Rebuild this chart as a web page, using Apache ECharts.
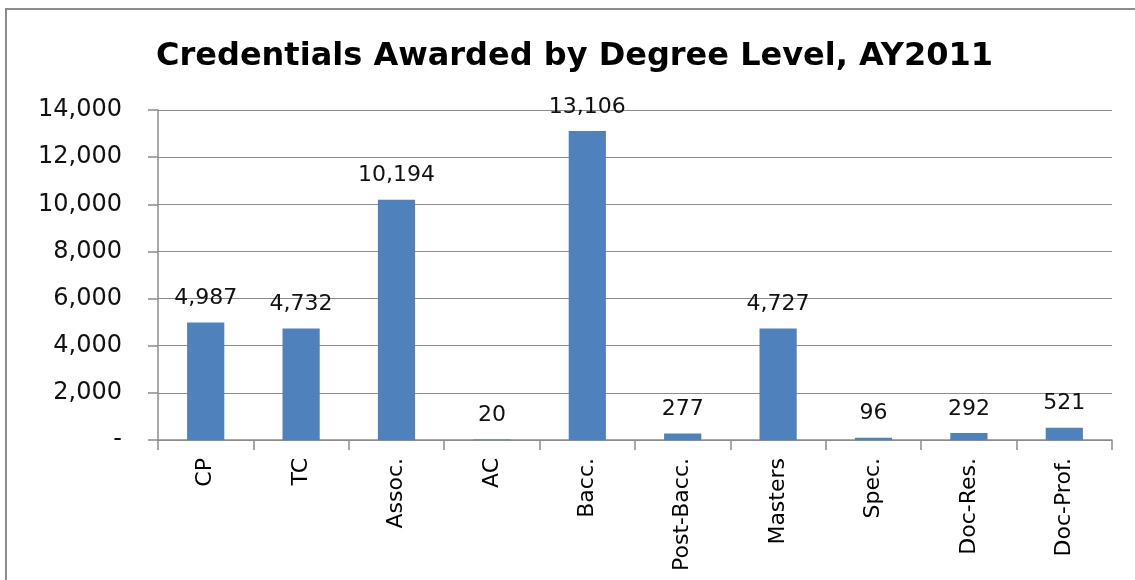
<!DOCTYPE html>
<html>
<head>
<meta charset="utf-8">
<script src="https://cdn.jsdelivr.net/npm/echarts@6/dist/echarts.min.js"></script>
<style>
html,body{margin:0;padding:0;background:#fff;}
#wrap{position:relative;width:1135px;height:580px;overflow:hidden;}
#border{position:absolute;left:5px;top:8px;width:1200px;height:700px;border:2px solid #8c8c8c;box-sizing:border-box;}
#chart{position:absolute;left:0;top:0;width:1135px;height:580px;}
</style>
</head>
<body>
<div id="wrap"><div id="border"></div><div id="chart"></div></div>
<script>
const titleText = "Credentials Awarded by Degree Level, AY2011";
const categories = ["CP","TC","Assoc.","AC","Bacc.","Post-Bacc.","Masters","Spec.","Doc-Res.","Doc-Prof."];
const values = [4987,4732,10194,20,13106,277,4727,96,292,521];
const yTicks = {min:0, max:14000, interval:2000};

const fmt = v => v === 0 ? "-" : v.toLocaleString("en-US");
const FONT = '"DejaVu Sans"';
const chart = echarts.init(document.getElementById("chart"));
chart.setOption({
  animation:false,
  title:{text:titleText,left:156,top:41,padding:0,textStyle:{fontFamily:FONT,fontWeight:'bold',fontSize:32,color:'#000'}},
  grid:{left:158,right:23,top:110,bottom:140,containLabel:false},
  xAxis:{type:'category',data:categories,
    axisLine:{lineStyle:{color:'#8c8c8c',width:1.5}},
    axisTick:{show:true,length:10,lineStyle:{color:'#8c8c8c',width:1.5}},
    axisLabel:{rotate:90,fontFamily:FONT,fontSize:22,color:'#000',margin:18,interval:0}
  },
  yAxis:{type:'value',min:yTicks.min,max:yTicks.max,interval:yTicks.interval,
    axisLine:{show:true,lineStyle:{color:'#8c8c8c',width:1.5}},
    axisTick:{show:true,length:10,lineStyle:{color:'#8c8c8c',width:1.5}},
    splitLine:{lineStyle:{color:'#8c8c8c',width:1.2}},
    axisLabel:{formatter:fmt,fontFamily:FONT,fontSize:24,color:'#111',margin:36}
  },
  series:[{type:'bar',data:values,barWidth:'39%',itemStyle:{color:'#4F81BD'},
    label:{show:true,position:'top',distance:13,formatter:p=>fmt(p.value),fontFamily:FONT,fontSize:22,color:'#111'}
  }]
});
</script>
</body>
</html>
